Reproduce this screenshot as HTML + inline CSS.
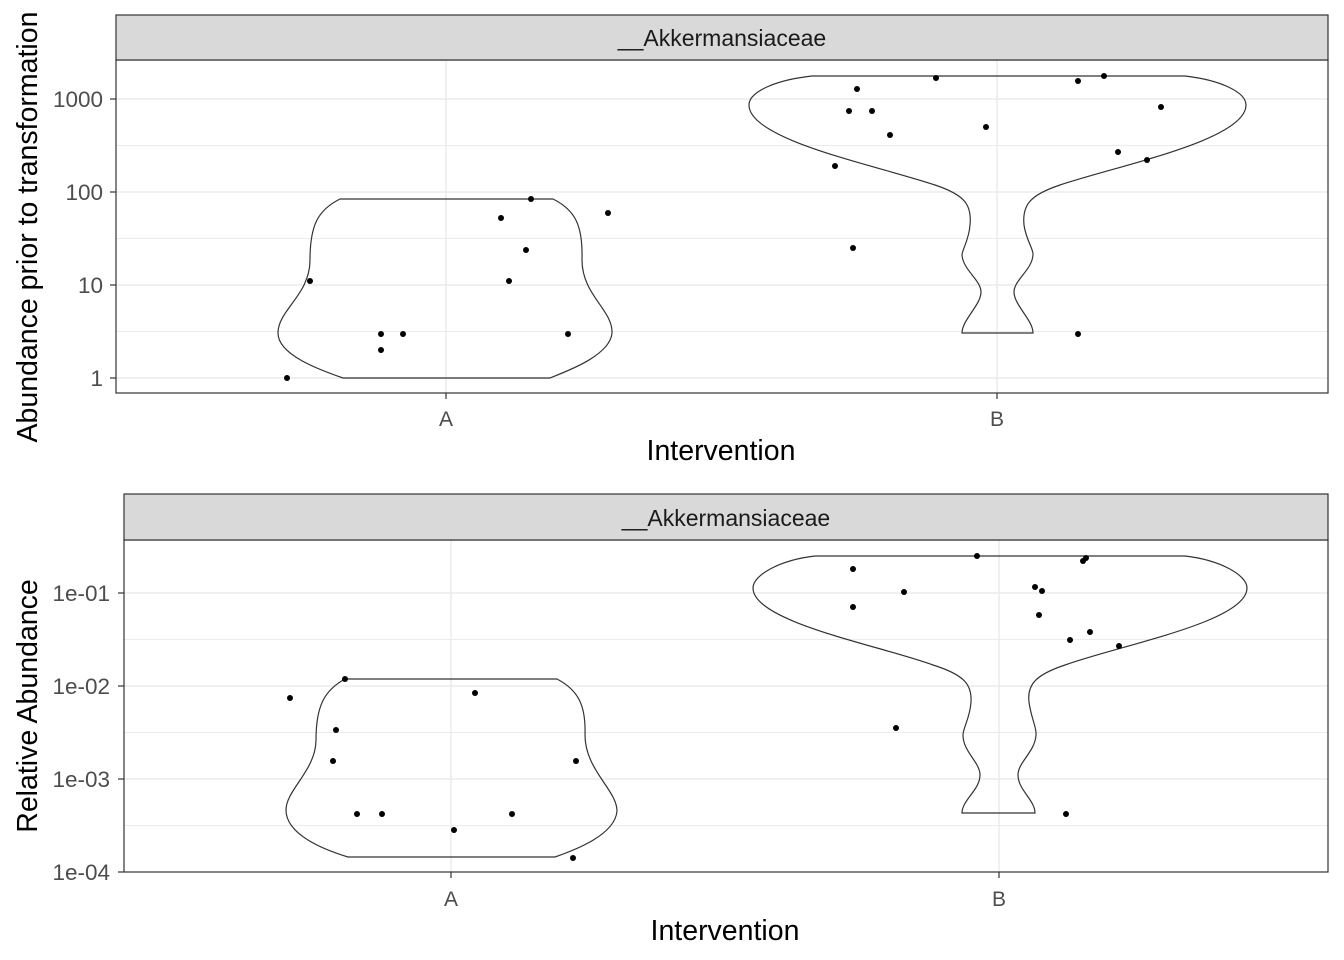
<!DOCTYPE html>
<html><head><meta charset="utf-8"><style>
html,body{margin:0;padding:0;background:#fff}
svg{display:block}
text{font-family:"Liberation Sans",Arial,sans-serif}
circle{r:3}
</style></head><body>
<svg width="1344" height="960" viewBox="0 0 1344 960" xmlns="http://www.w3.org/2000/svg">
<!-- TOP PANEL -->
<g>
<rect x="116" y="60" width="1212" height="333" fill="#fff"/>
<g stroke="#ebebeb" stroke-width="1">
<line x1="116" x2="1328" y1="145.5" y2="145.5"/><line x1="116" x2="1328" y1="238.5" y2="238.5"/><line x1="116" x2="1328" y1="331.5" y2="331.5"/>
</g>
<g stroke="#ebebeb" stroke-width="1.5">
<line x1="116" x2="1328" y1="99" y2="99"/><line x1="116" x2="1328" y1="192" y2="192"/><line x1="116" x2="1328" y1="285" y2="285"/><line x1="116" x2="1328" y1="378" y2="378"/>
<line x1="446" x2="446" y1="60" y2="393"/><line x1="997" x2="997" y1="60" y2="393"/>
</g>
<path d="M340,199 L553,199 C575,210 583,225 582,260 C582,295 613,310 612,333 C610,355 570,370 550,378 L343,378 C320,370 278,355 278,333 C278,310 310,295 310,260 C310,225 318,210 340,199 Z" fill="none" stroke="#333" stroke-width="1.2"/>
<path d="M812,76 L1185,76 C1220,80 1246,92 1246,105 C1246,140 1120,165 1060,185 C1030,195 1022,205 1024,225 C1026,240 1034,250 1033,255 C1032,270 1014,280 1014,292 C1014,305 1033,320 1033,333 L962,333 C962,320 981,305 981,292 C981,280 963,270 962,255 C962,250 969,240 970,225 C972,205 965,195 935,185 C875,165 749,140 749,105 C749,92 775,80 812,76 Z" fill="none" stroke="#333" stroke-width="1.2"/>
<g fill="#000">
<circle cx="287" cy="378" r="3"/><circle cx="310" cy="281" r="3"/><circle cx="381" cy="334" r="3"/><circle cx="381" cy="350" r="3"/><circle cx="403" cy="334" r="3"/><circle cx="501" cy="218" r="3"/><circle cx="531" cy="199" r="3"/><circle cx="526" cy="250" r="3"/><circle cx="509" cy="281" r="3"/><circle cx="568" cy="334" r="3"/><circle cx="608" cy="213" r="3"/>
<circle cx="857" cy="89" r="3"/><circle cx="849" cy="111" r="3"/><circle cx="872" cy="111" r="3"/><circle cx="890" cy="135" r="3"/><circle cx="936" cy="78" r="3"/><circle cx="986" cy="127" r="3"/><circle cx="835" cy="166" r="3"/><circle cx="853" cy="248" r="3"/><circle cx="1078" cy="81" r="3"/><circle cx="1104" cy="76" r="3"/><circle cx="1161" cy="107" r="3"/><circle cx="1118" cy="152" r="3"/><circle cx="1147" cy="160" r="3"/><circle cx="1078" cy="334" r="3"/>
</g>
<rect x="116" y="60" width="1212" height="333" fill="none" stroke="#333" stroke-width="1.2"/>
<rect x="116" y="15" width="1212" height="45" fill="#d9d9d9" stroke="#333" stroke-width="1.2"/>
<text x="722" y="46" font-size="23" text-anchor="middle" fill="#1a1a1a">__Akkermansiaceae</text>
<g stroke="#333" stroke-width="1.2">
<line x1="110" x2="116" y1="99" y2="99"/><line x1="110" x2="116" y1="192" y2="192"/><line x1="110" x2="116" y1="285" y2="285"/><line x1="110" x2="116" y1="378" y2="378"/>
<line x1="446" x2="446" y1="393" y2="399"/><line x1="997" x2="997" y1="393" y2="399"/>
</g>
<g font-size="22.5" fill="#4d4d4d" text-anchor="end">
<text x="103" y="107">1000</text><text x="103" y="200">100</text><text x="103" y="293">10</text><text x="103" y="386">1</text>
</g>
<g font-size="21" fill="#4d4d4d" text-anchor="middle">
<text x="446" y="426">A</text><text x="997" y="426">B</text>
</g>
<text x="721" y="460" font-size="28.5" text-anchor="middle" fill="#000">Intervention</text>
<text transform="translate(37,227) rotate(-90)" font-size="28.5" text-anchor="middle" fill="#000">Abundance prior to transformation</text>
</g>

<!-- BOTTOM PANEL -->
<g>
<g stroke="#ebebeb" stroke-width="1">
<line x1="124" x2="1328" y1="639.5" y2="639.5"/><line x1="124" x2="1328" y1="732.5" y2="732.5"/><line x1="124" x2="1328" y1="825.5" y2="825.5"/>
</g>
<g stroke="#ebebeb" stroke-width="1.5">
<line x1="124" x2="1328" y1="593" y2="593"/><line x1="124" x2="1328" y1="686" y2="686"/><line x1="124" x2="1328" y1="779" y2="779"/>
<line x1="451" x2="451" y1="540" y2="872"/><line x1="999" x2="999" y1="540" y2="872"/>
</g>
<path d="M345,679 L557,679 C578,690 586,705 585,735 C585,770 617,790 617,811 C615,835 575,850 555,857 L348,857 C325,850 286,835 286,810 C286,790 316,770 316,740 C316,705 325,690 345,679 Z" fill="none" stroke="#333" stroke-width="1.2"/>
<path d="M815,556 L1185,556 C1220,560 1247,575 1247,588 C1247,622 1120,645 1065,665 C1035,675 1027,685 1029,702 C1031,718 1037,728 1036,735 C1035,752 1018,762 1018,775 C1018,790 1035,800 1035,813 L962,813 C962,800 980,790 980,775 C980,762 963,752 963,735 C963,728 970,718 971,702 C972,685 965,675 933,665 C878,645 753,622 753,588 C753,575 780,560 815,556 Z" fill="none" stroke="#333" stroke-width="1.2"/>
<g fill="#000">
<circle cx="290" cy="698" r="3"/><circle cx="345" cy="679" r="3"/><circle cx="336" cy="730" r="3"/><circle cx="333" cy="761" r="3"/><circle cx="357" cy="814" r="3"/><circle cx="382" cy="814" r="3"/><circle cx="454" cy="830" r="3"/><circle cx="475" cy="693" r="3"/><circle cx="512" cy="814" r="3"/><circle cx="576" cy="761" r="3"/><circle cx="573" cy="858" r="3"/>
<circle cx="853" cy="569" r="3"/><circle cx="853" cy="607" r="3"/><circle cx="904" cy="592" r="3"/><circle cx="977" cy="556" r="3"/><circle cx="1035" cy="587" r="3"/><circle cx="1042" cy="591" r="3"/><circle cx="1039" cy="615" r="3"/><circle cx="1070" cy="640" r="3"/><circle cx="1090" cy="632" r="3"/><circle cx="1119" cy="646" r="3"/><circle cx="1083" cy="561" r="3"/><circle cx="1086" cy="558" r="3"/><circle cx="896" cy="728" r="3"/><circle cx="1066" cy="814" r="3"/>
</g>
<rect x="124" y="540" width="1204" height="332" fill="none" stroke="#333" stroke-width="1.2"/>
<rect x="124" y="494" width="1204" height="46" fill="#d9d9d9" stroke="#333" stroke-width="1.2"/>
<text x="726" y="526" font-size="23" text-anchor="middle" fill="#1a1a1a">__Akkermansiaceae</text>
<g stroke="#333" stroke-width="1.2">
<line x1="118" x2="124" y1="593" y2="593"/><line x1="118" x2="124" y1="686" y2="686"/><line x1="118" x2="124" y1="779" y2="779"/><line x1="118" x2="124" y1="872" y2="872"/>
<line x1="451" x2="451" y1="872" y2="878"/><line x1="999" x2="999" y1="872" y2="878"/>
</g>
<g font-size="22.5" fill="#4d4d4d" text-anchor="end">
<text x="110" y="601">1e-01</text><text x="110" y="694">1e-02</text><text x="110" y="787">1e-03</text><text x="110" y="880">1e-04</text>
</g>
<g font-size="21" fill="#4d4d4d" text-anchor="middle">
<text x="451" y="906">A</text><text x="999" y="906">B</text>
</g>
<text x="725" y="940" font-size="28.5" text-anchor="middle" fill="#000">Intervention</text>
<text transform="translate(37,706) rotate(-90)" font-size="28.5" text-anchor="middle" fill="#000">Relative Abundance</text>
</g>
</svg>
</body></html>
